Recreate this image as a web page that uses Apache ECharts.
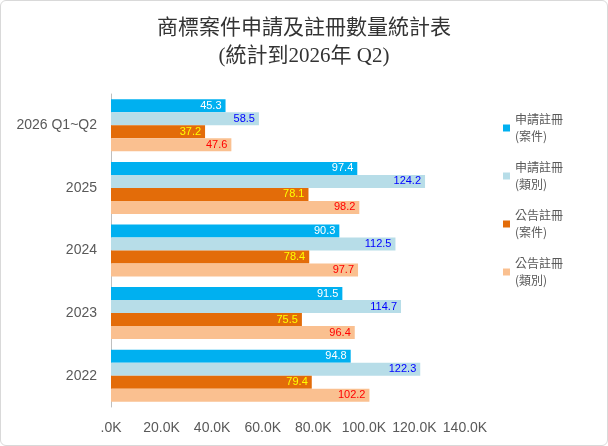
<!DOCTYPE html>
<html><head><meta charset="utf-8">
<script src="https://cdn.jsdelivr.net/npm/echarts@6/dist/echarts.min.js"></script>
<style>html,body{margin:0;padding:0;background:#fff}#c{width:608px;height:446px;box-sizing:border-box;border:1px solid #d9d9d9;border-radius:6px}</style>
</head><body><div id="c"></div>
<script>
const categories = ['2026 Q1~Q2','2025','2024','2023','2022'];
const seriesNames = ['申請註冊\n(案件)','申請註冊\n(類別)','公告註冊\n(案件)','公告註冊\n(類別)'];
const appCases = [45.3,97.4,90.3,91.5,94.8];
const appClasses = [58.5,124.2,112.5,114.7,122.3];
const pubCases = [37.2,78.1,78.4,75.5,79.4];
const pubClasses = [47.6,98.2,97.7,96.4,102.2];
const xTicks = [0,20,40,60,80,100,120,140];
const colors = ['#00b0f0','#b7dde8','#e36c09','#fac090'];
const labelColors = ['#ffffff','#0000ff','#ffff00','#ff0000'];
const data = [appCases,appClasses,pubCases,pubClasses];
const chart = echarts.init(document.getElementById('c'));
chart.setOption({
  animation:false,
  title:{text:'商標案件申請及註冊數量統計表\n(統計到2026年 Q2)',left:'center',top:8,
    textStyle:{fontFamily:'Liberation Serif, Noto Sans CJK TC',fontSize:21,fontWeight:'normal',color:'#333',lineHeight:28}},
  legend:{orient:'vertical',left:497,top:105,itemWidth:7,itemHeight:7,itemGap:14,icon:'rect',
    textStyle:{fontFamily:'Noto Sans CJK TC',fontSize:12,color:'#595959',lineHeight:17}},
  grid:{left:110,right:142,top:93,bottom:38},
  xAxis:{type:'value',min:0,max:140,interval:20,splitLine:{show:false},axisLine:{show:false},axisTick:{show:false},
    axisLabel:{margin:14,fontSize:14,color:'#595959',formatter:v=>v===0?'.0K':v.toFixed(1)+'K'}},
  yAxis:{type:'category',data:categories,inverse:true,axisTick:{show:false},
    axisLine:{lineStyle:{color:'#bfbfbf'}},axisLabel:{fontSize:14,color:'#595959',margin:14}},
  series:data.map((d,i)=>({name:seriesNames[i],type:'bar',data:d,barGap:'0%',barCategoryGap:'17%',
    itemStyle:{color:colors[i]},
    label:{show:true,position:'insideRight',color:labelColors[i],fontSize:11,distance:4,formatter:p=>p.value.toFixed(1)}}))
});
</script></body></html>
